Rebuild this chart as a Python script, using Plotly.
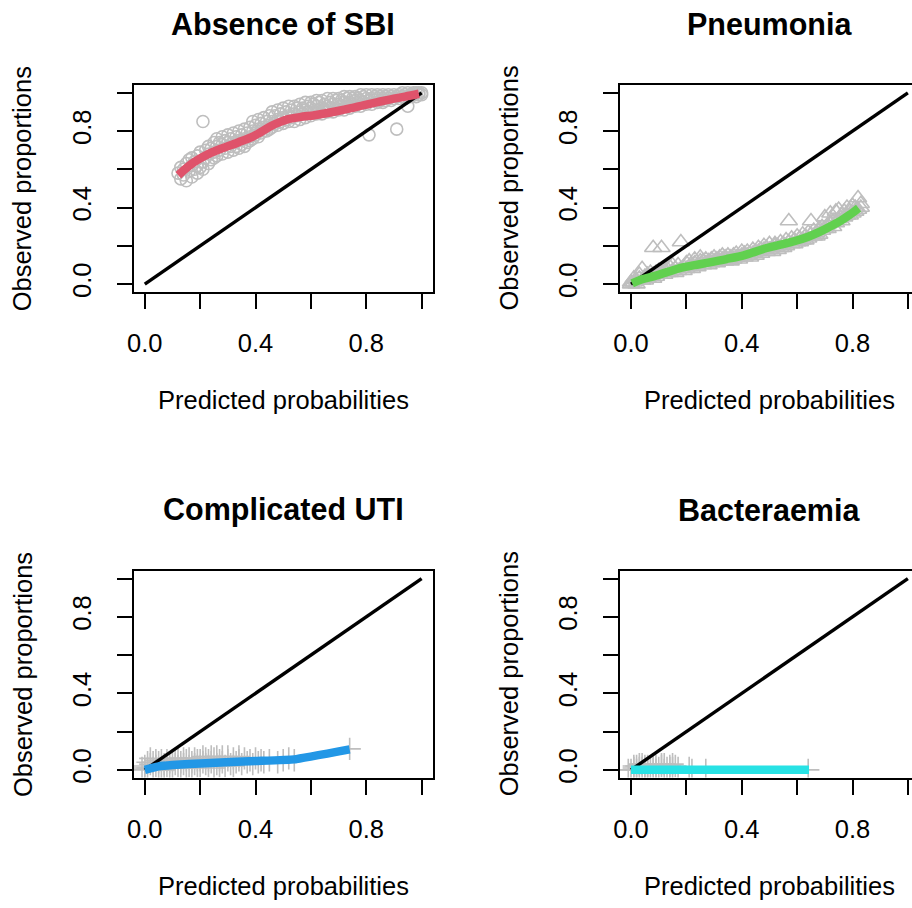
import plotly.graph_objects as go

# ---------------- data ----------------
diag = [0.0, 1.0]

sbi_pred = [0.12,0.13,0.13,0.14,0.14,0.15,0.15,0.16,0.16,0.17,0.17,0.17,0.18,0.18,0.19,0.19,0.19,0.20,0.20,
            0.21,0.21,0.21,0.22,0.22,0.23,0.23,0.23,0.24,0.24,0.25,0.25,0.25,0.26,0.26,0.26,0.27,0.27,
            0.28,0.28,0.28,0.29,0.29,0.30,0.30,0.30,0.31,0.31,0.32,0.32,0.32,0.33,0.33,0.34,0.34,0.34,
            0.35,0.35,0.36,0.36,0.36,0.37,0.37,0.38,0.38,0.38,0.39,0.39,0.39,0.40,0.40,0.41,0.41,0.41,
            0.42,0.42,0.43,0.43,0.43,0.44,0.44,0.45,0.45,0.45,0.46,0.46,0.46,0.47,0.47,0.48,0.48,0.48,
            0.49,0.49,0.50,0.50,0.50,0.51,0.51,0.52,0.52,0.52,0.53,0.53,0.54,0.54,0.54,0.55,0.55,
            0.56,0.56,0.56,0.57,0.57,0.58,0.58,0.58,0.59,0.59,0.60,0.60,0.60,0.61,0.61,0.62,0.62,0.62,
            0.63,0.63,0.64,0.64,0.64,0.65,0.65,0.66,0.66,0.66,0.67,0.67,0.68,0.68,0.68,0.69,0.69,
            0.70,0.70,0.70,0.71,0.71,0.72,0.72,0.72,0.73,0.73,0.74,0.74,0.74,0.75,0.75,0.76,0.76,0.76,
            0.77,0.77,0.78,0.78,0.78,0.79,0.79,0.80,0.80,0.80,0.81,0.81,0.82,0.82,0.82,0.83,0.83,
            0.84,0.84,0.84,0.85,0.85,0.86,0.86,0.86,0.87,0.87,0.88,0.88,0.89,0.89,0.90,0.90,0.91,0.91,
            0.92,0.92,0.93,0.93,0.94,0.94,0.95,0.95,0.95,0.96,0.96,0.97,0.97,0.98,0.98,0.99,0.99,1.00,1.00]
sbi_obs = [0.58,0.55,0.61,0.57,0.60,0.54,0.63,0.59,0.65,0.56,0.62,0.66,0.60,0.64,0.58,0.67,0.62,0.61,0.69,
           0.85,0.64,0.60,0.66,0.70,0.63,0.72,0.68,0.65,0.71,0.69,0.74,0.66,0.67,0.72,0.76,0.70,0.74,
           0.68,0.73,0.77,0.71,0.75,0.69,0.74,0.78,0.72,0.76,0.74,0.79,0.70,0.72,0.77,0.75,0.80,0.71,
           0.73,0.78,0.76,0.81,0.72,0.74,0.79,0.77,0.82,0.75,0.80,0.85,0.76,0.78,0.83,0.81,0.86,0.77,
           0.79,0.84,0.82,0.87,0.80,0.80,0.85,0.83,0.88,0.81,0.85,0.90,0.82,0.84,0.88,0.86,0.91,0.83,
           0.85,0.89,0.87,0.92,0.84,0.86,0.90,0.88,0.93,0.85,0.87,0.91,0.89,0.85,0.93,0.88,0.92,
           0.86,0.90,0.94,0.89,0.92,0.87,0.91,0.95,0.90,0.93,0.88,0.92,0.95,0.90,0.94,0.89,0.93,0.96,
           0.91,0.95,0.89,0.92,0.96,0.91,0.94,0.90,0.93,0.97,0.92,0.95,0.90,0.94,0.97,0.92,0.96,
           0.91,0.94,0.97,0.93,0.96,0.91,0.95,0.98,0.94,0.97,0.92,0.95,0.98,0.94,0.97,0.93,0.96,0.98,
           0.95,0.97,0.93,0.96,0.99,0.95,0.98,0.94,0.97,0.99,0.78,0.96,0.94,0.97,0.99,0.96,0.98,
           0.95,0.97,0.99,0.96,0.98,0.95,0.97,0.99,0.96,0.98,0.97,0.99,0.96,0.98,0.97,0.99,0.81,0.98,
           0.97,0.99,0.98,1.00,0.97,0.99,0.93,0.98,1.00,0.98,0.99,0.99,1.00,0.98,1.00,0.99,1.00,0.99,1.00]
sbi_curve_x = [0.121,0.145,0.171,0.20,0.231,0.27,0.315,0.35,0.386,0.42,0.458,0.49,0.518,0.56,0.613,
               0.655,0.697,0.745,0.792,0.84,0.888,0.94,0.99]
sbi_curve_y = [0.569,0.60,0.630,0.657,0.681,0.705,0.728,0.748,0.768,0.795,0.828,0.848,0.862,0.873,0.883,
               0.893,0.905,0.920,0.936,0.951,0.966,0.980,0.995]

pn_pred = [0.00,0.00,0.01,0.01,0.02,0.02,0.03,0.03,0.04,0.04,0.05,0.05,0.06,0.06,0.07,0.07,0.08,0.08,0.08,
           0.09,0.09,0.10,0.10,0.11,0.11,0.12,0.12,0.13,0.13,0.14,0.14,0.15,0.15,0.16,0.16,0.17,0.17,
           0.18,0.18,0.19,0.19,0.20,0.20,0.21,0.21,0.22,0.22,0.23,0.23,0.24,0.24,0.25,0.25,0.26,0.26,
           0.27,0.27,0.28,0.28,0.29,0.29,0.30,0.30,0.31,0.31,0.32,0.32,0.33,0.33,0.34,0.34,0.35,0.35,
           0.36,0.36,0.37,0.37,0.38,0.38,0.39,0.39,0.40,0.40,0.41,0.41,0.42,0.42,0.43,0.43,0.44,0.44,
           0.45,0.45,0.46,0.46,0.47,0.47,0.48,0.48,0.49,0.49,0.50,0.50,0.51,0.51,0.52,0.52,0.53,0.53,
           0.54,0.54,0.55,0.55,0.56,0.56,0.57,0.57,0.58,0.58,0.59,0.59,0.60,0.60,0.61,0.61,0.62,0.62,
           0.63,0.63,0.64,0.64,0.65,0.65,0.66,0.66,0.67,0.67,0.68,0.68,0.69,0.69,0.70,0.70,0.71,0.71,
           0.72,0.72,0.73,0.73,0.74,0.74,0.75,0.75,0.76,0.76,0.77,0.77,0.78,0.78,0.79,0.79,0.80,0.80,
           0.81,0.81,0.82,0.82,0.83,0.83]
pn_obs = [0.00,0.01,0.01,0.03,0.02,0.00,0.03,0.05,0.02,0.08,0.04,0.02,0.05,0.03,0.04,0.06,0.19,0.05,0.03,
          0.06,0.04,0.05,0.07,0.19,0.06,0.07,0.05,0.06,0.08,0.09,0.06,0.07,0.10,0.08,0.06,0.10,0.07,
          0.22,0.08,0.09,0.07,0.11,0.08,0.09,0.12,0.10,0.08,0.11,0.13,0.10,0.09,0.12,0.14,0.10,0.12,
          0.11,0.13,0.12,0.10,0.13,0.11,0.12,0.14,0.13,0.11,0.14,0.12,0.13,0.15,0.12,0.14,0.15,0.13,
          0.14,0.12,0.15,0.13,0.16,0.14,0.14,0.13,0.15,0.17,0.14,0.16,0.17,0.15,0.16,0.14,0.18,0.16,
          0.17,0.15,0.19,0.17,0.18,0.16,0.20,0.18,0.19,0.17,0.21,0.18,0.19,0.17,0.21,0.20,0.20,0.18,
          0.22,0.19,0.21,0.19,0.23,0.20,0.33,0.22,0.21,0.24,0.23,0.21,0.25,0.22,0.24,0.22,0.26,0.23,
          0.25,0.23,0.27,0.24,0.33,0.26,0.28,0.25,0.27,0.25,0.29,0.26,0.30,0.28,0.35,0.29,0.31,0.29,
          0.37,0.32,0.33,0.30,0.38,0.32,0.34,0.39,0.36,0.33,0.38,0.35,0.40,0.36,0.38,0.36,0.41,0.37,
          0.40,0.38,0.45,0.39,0.42,0.40]
pn_curve_x = [0.004,0.04,0.087,0.135,0.183,0.23,0.279,0.345,0.41,0.45,0.494,0.54,0.589,0.64,0.685,0.72,0.757,0.79,0.822]
pn_curve_y = [0.004,0.025,0.043,0.065,0.086,0.099,0.112,0.131,0.152,0.170,0.190,0.206,0.224,0.248,0.276,0.302,0.331,0.362,0.397]

uti_pred = [-0.01,0.00,0.00,0.01,0.01,0.02,0.02,0.03,0.03,0.04,0.04,0.05,0.05,0.06,0.06,0.07,0.07,0.08,0.08,
            0.09,0.09,0.10,0.10,0.11,0.11,0.12,0.12,0.13,0.13,0.14,0.14,0.15,0.15,0.16,0.16,0.17,0.17,
            0.18,0.18,0.19,0.19,0.20,0.20,0.21,0.21,0.22,0.22,0.23,0.23,0.24,0.24,0.25,0.25,0.26,0.26,
            0.27,0.27,0.28,0.28,0.29,0.30,0.30,0.31,0.32,0.32,0.33,0.34,0.34,0.35,0.36,0.37,0.38,0.39,
            0.40,0.41,0.42,0.43,0.45,0.48,0.50,0.52,0.54,0.74]
uti_obs = [0.01,0.00,0.02,0.01,0.04,0.03,0.06,0.01,0.04,0.02,0.05,0.04,0.00,0.01,0.05,0.03,0.00,0.02,0.05,
           0.04,0.01,0.01,0.05,0.03,0.06,0.02,0.06,0.04,0.01,0.03,0.06,0.05,0.01,0.02,0.06,0.04,0.01,
           0.03,0.06,0.05,0.02,0.02,0.05,0.04,0.07,0.03,0.06,0.05,0.02,0.04,0.07,0.06,0.01,0.03,0.07,
           0.05,0.02,0.04,0.07,0.02,0.05,0.07,0.03,0.06,0.02,0.04,0.05,0.07,0.03,0.06,0.04,0.05,0.03,
           0.06,0.04,0.05,0.04,0.05,0.04,0.05,0.06,0.05,0.11]
uti_curve_x = [0.0,0.05,0.10,0.22,0.40,0.54,0.74]
uti_curve_y = [0.0,0.018,0.025,0.035,0.046,0.055,0.107]

bac_pred = [-0.01,0.00,0.01,0.01,0.02,0.02,0.03,0.03,0.04,0.04,0.05,0.05,0.06,0.06,0.07,0.08,0.08,0.09,0.09,
            0.10,0.11,0.11,0.12,0.12,0.13,0.14,0.14,0.15,0.15,0.16,0.17,0.21,0.22,0.27,0.64]
bac_obs = [0.00,0.00,0.01,0.02,0.02,0.00,0.01,0.03,0.03,0.01,0.01,0.02,0.02,0.00,0.01,0.03,0.01,0.02,0.00,
           0.01,0.02,0.03,0.03,0.00,0.01,0.02,0.01,0.01,0.03,0.02,0.01,0.01,0.00,0.00,0.00]
bac_curve_x = [0.0,0.643]
bac_curve_y = [0.0,0.0]

titles = ["Absence of SBI", "Pneumonia", "Complicated UTI", "Bacteraemia"]
tick_vals = [0.0, 0.2, 0.4, 0.6, 0.8, 1.0]
tick_text = ["0.0", "", "0.4", "", "0.8", ""]
x_label = "Predicted probabilities"
y_label = "Observed proportions"

GREY = "#BEBEBE"
colors = ["#DF536B", "#61D04F", "#2297E6", "#28E2E5"]
symbols = ["circle-open", "triangle-up-open", "cross-thin-open", "cross-thin-open"]
sizes = [12, 15, 16, 16]
points = [(sbi_pred, sbi_obs), (pn_pred, pn_obs), (uti_pred, uti_obs), (bac_pred, bac_obs)]
curves = [(sbi_curve_x, sbi_curve_y), (pn_curve_x, pn_curve_y), (uti_curve_x, uti_curve_y), (bac_curve_x, bac_curve_y)]
smooth = [1.0, 1.0, 0.3, 0.0]

# ---------------- layout geometry (pixels) ----------------
W, H = 912, 908
FONT = "Liberation Sans, Arial, Helvetica, sans-serif"
FS = 25.5
px_per_unit = (429 - 127.7) / 1.08
col_left = [127.7, 617.7]
col_right = [429.0, 912.0]
row_top = [85.7, 574.7]
row_bot = [293.7, 782.7]

fig = go.Figure()
layout = dict(width=W, height=H, margin=dict(l=0, r=0, t=0, b=0),
              paper_bgcolor="white", plot_bgcolor="white", showlegend=False,
              font=dict(family=FONT, size=FS, color="black"))
annotations = []

for i in range(4):
    r, c = divmod(i, 2)
    ax = "" if i == 0 else str(i + 1)
    xa, ya = "x" + ax, "y" + ax
    px, py = points[i]
    fig.add_trace(go.Scatter(x=px, y=py, mode="markers", xaxis=xa, yaxis=ya,
                             marker=dict(symbol=symbols[i], size=sizes[i], color=GREY,
                                         line=dict(color=GREY, width=1.6))))
    fig.add_trace(go.Scatter(x=diag, y=diag, mode="lines", xaxis=xa, yaxis=ya,
                             line=dict(color="black", width=3.4)))
    cx, cy = curves[i]
    fig.add_trace(go.Scatter(x=cx, y=cy, mode="lines", xaxis=xa, yaxis=ya,
                             line=dict(color=colors[i], width=8.5,
                                       shape="spline" if smooth[i] > 0 else "linear",
                                       smoothing=smooth[i] if smooth[i] > 0 else None)))

    x0, x1 = col_left[c], col_right[c]
    xr_end = -0.04 + (x1 - x0) / px_per_unit
    layout["xaxis" + ax] = dict(domain=[x0 / W, x1 / W], range=[-0.04, xr_end], anchor=ya,
                                showgrid=False, zeroline=False, showline=True, mirror=True,
                                linecolor="black", linewidth=2, ticks="outside", ticklen=15,
                                tickwidth=2, tickcolor="black", tickvals=tick_vals, ticktext=tick_text,
                                tickfont=dict(size=FS, family=FONT), ticklabelstandoff=13)
    layout["yaxis" + ax] = dict(domain=[1 - row_bot[r] / H, 1 - row_top[r] / H], range=[-0.04, 1.04],
                                anchor=xa, showgrid=False, zeroline=False, showline=True,
                                mirror=(c == 0), linecolor="black", linewidth=2, ticks="outside",
                                ticklen=15, tickwidth=2, tickcolor="black", tickvals=tick_vals,
                                ticktext=tick_text, tickangle=-90,
                                tickfont=dict(size=FS, family=FONT), ticklabelstandoff=16)

    cxp = (col_left[c] + col_left[c] + 1.08 * px_per_unit) / 2
    annotations.append(dict(text="<b>%s</b>" % titles[i], x=cxp / W, y=1 - (24 + 489 * r) / H,
                            xref="paper", yref="paper", showarrow=False, xanchor="center",
                            yanchor="middle", font=dict(size=30.5, family=FONT)))
    annotations.append(dict(text=x_label, x=cxp / W, y=1 - (403 + 489 * r) / H,
                            xref="paper", yref="paper", showarrow=False, xanchor="center",
                            yanchor="middle", font=dict(size=FS, family=FONT)))
    annotations.append(dict(text=y_label, x=(16 + 490 * c) / W,
                            y=1 - ((row_top[r] + row_bot[r]) / 2) / H,
                            xref="paper", yref="paper", showarrow=False, xanchor="center",
                            yanchor="middle", textangle=-90, font=dict(size=FS, family=FONT)))

layout["annotations"] = annotations
fig.update_layout(**layout)
fig.write_html("out.html", config={"displayModeBar": False},
               post_script="document.body.style.margin='0';document.body.style.padding='0';"
                           "document.body.style.overflow='hidden';")
